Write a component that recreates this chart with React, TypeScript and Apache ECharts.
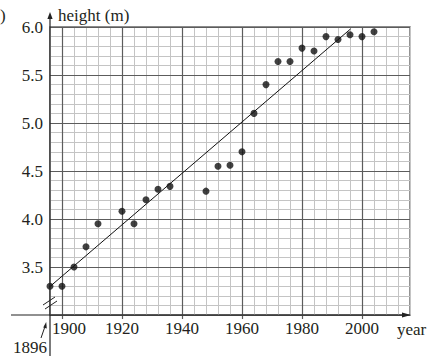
import React, { useEffect, useRef } from "react";
import * as echarts from "echarts";

const years = [1896, 1900, 1904, 1908, 1912, 1920, 1924, 1928, 1932, 1936, 1948, 1952, 1956, 1960, 1964, 1968, 1972, 1976, 1980, 1984, 1988, 1992, 1996, 2000, 2004];
const heights = [3.30, 3.30, 3.50, 3.71, 3.95, 4.08, 3.95, 4.20, 4.31, 4.34, 4.29, 4.55, 4.56, 4.70, 5.10, 5.40, 5.64, 5.64, 5.78, 5.75, 5.90, 5.87, 5.92, 5.90, 5.95];
const trendYears = [1893.5, 1996.2];
const trendHeights = [3.23, 5.98];
const xTickLabels = [1900, 1920, 1940, 1960, 1980, 2000];
const yTickLabels = [3.5, 4.0, 4.5, 5.0, 5.5, 6.0];
const xMin = 1896;
const xMax = 2016;
const yMin = 3.0;
const yMax = 6.0;

const FONT = "Liberation Serif";
const INK = "#231f20";
const MINOR = "#c4c4c4";
const MAJOR = "#5c5c5c";

export default function App() {
  const ref = useRef<HTMLDivElement>(null);
  useEffect(() => {
    if (!ref.current) return;
    const chart = echarts.init(ref.current, undefined, { renderer: "svg" });
    const points = years.map((y, i) => [y, heights[i]]);
    const trend = trendYears.map((y, i) => [y, trendHeights[i]]);
    chart.setOption({
      animation: false,
      grid: {
        left: 50, right: 18, top: 27, bottom: 41,
        show: true, borderColor: "#666", borderWidth: 1.4, backgroundColor: "transparent",
      },
      xAxis: [
        {
          type: "value", position: "bottom", min: xMin, max: xMax, interval: 4, z: 0,
          axisLine: { show: false }, axisTick: { show: false }, axisLabel: { show: false },
          splitLine: { show: true, lineStyle: { color: MINOR, width: 1 } },
        },
        {
          type: "value", position: "bottom", offset: 0, min: xMin, max: xMax, z: 1,
          axisLine: { show: false },
          axisTick: { show: true, length: 4, customValues: xTickLabels, lineStyle: { color: MAJOR, width: 1.2 } },
          axisLabel: {
            show: true, customValues: xTickLabels, margin: 5,
            fontFamily: FONT, fontSize: 17, color: INK,
            formatter: (v: number) => (v === 1900 ? `{off|${v}}` : `${v}`),
            rich: { off: { padding: [0, 0, 0, 14], fontFamily: FONT, fontSize: 17, color: INK } },
          },
          splitLine: { show: true, lineStyle: { color: MAJOR, width: 1.2 } },
        },
      ],
      yAxis: [
        {
          type: "value", position: "left", min: yMin, max: yMax, interval: 0.1, z: 0,
          axisLine: { show: false }, axisTick: { show: false }, axisLabel: { show: false },
          splitLine: { show: true, lineStyle: { color: MINOR, width: 1 } },
        },
        {
          type: "value", position: "left", offset: 0, min: yMin, max: yMax, interval: 0.5, z: 1,
          axisLine: { show: false }, axisTick: { show: false },
          axisLabel: {
            show: true, customValues: yTickLabels, margin: 7,
            fontFamily: FONT, fontSize: 17, color: INK,
            formatter: (v: number) => v.toFixed(1),
          },
          splitLine: { show: true, lineStyle: { color: MAJOR, width: 1.2 } },
        },
      ],
      series: [
        {
          type: "line", data: trend, xAxisIndex: 0, yAxisIndex: 0, clip: false,
          showSymbol: false, symbol: "none", lineStyle: { color: "#111", width: 1 }, z: 5,
        },
        {
          type: "scatter", data: points, xAxisIndex: 0, yAxisIndex: 0,
          symbol: "circle", symbolSize: 7, itemStyle: { color: "#111" }, z: 6,
        },
      ],
    });

    const o = chart.convertToPixel({ gridIndex: 0 }, [xMin, yMin]) as number[];
    const tr = chart.convertToPixel({ gridIndex: 0 }, [xMax, yMax]) as number[];
    const ox = o[0], oy = o[1], rx = tr[0], ty = tr[1];
    const axisStyle = { stroke: "#222", lineWidth: 1.2 };
    const txt = (text: string, x: number, y: number, align = "left") => ({
      type: "text", x, y, z: 20,
      style: { text, x: 0, y: 0, font: `17px "Liberation Serif"`, fill: INK, align, textAlign: align, verticalAlign: "middle", textVerticalAlign: "middle" },
    });
    chart.setOption({
      graphic: [
        { type: "line", z: 10, shape: { x1: ox, y1: 356, x2: ox, y2: ty - 10 }, style: axisStyle },
        { type: "polygon", z: 10, shape: { points: [[ox, ty - 15], [ox - 2.6, ty - 8], [ox + 2.6, ty - 8]] }, style: { fill: "#222" } },
        { type: "line", z: 10, shape: { x1: 11, y1: oy, x2: rx - 4, y2: oy }, style: axisStyle },
        { type: "polygon", z: 10, shape: { points: [[rx + 1, oy], [rx - 8, oy - 2.6], [rx - 8, oy + 2.6]] }, style: { fill: "#222" } },
        { type: "line", z: 11, shape: { x1: ox - 7, y1: oy - 10, x2: ox + 5, y2: oy - 18 }, style: { stroke: "#222", lineWidth: 1 } },
        { type: "line", z: 11, shape: { x1: ox - 5, y1: oy - 6, x2: ox + 7, y2: oy - 14 }, style: { stroke: "#222", lineWidth: 1 } },
        { type: "line", z: 11, shape: { x1: ox - 9, y1: oy + 23, x2: ox - 4.5, y2: oy + 10 }, style: { stroke: "#222", lineWidth: 1 } },
        { type: "polygon", z: 11, shape: { points: [[ox - 3.8, oy + 7], [ox - 6.8, oy + 12.5], [ox - 3.2, oy + 13.5]] }, style: { fill: "#222" } },
        txt("height (m)", ox + 8, ty - 12),
        txt("year", 397, oy + 14),
        txt("1896", 13, oy + 32),
        txt(")", 0, ty - 12),
      ],
    });
    return () => chart.dispose();
  }, []);
  return <div ref={ref} style={{ position: "absolute", left: 0, top: 0, width: 428, height: 356 }} />;
}
